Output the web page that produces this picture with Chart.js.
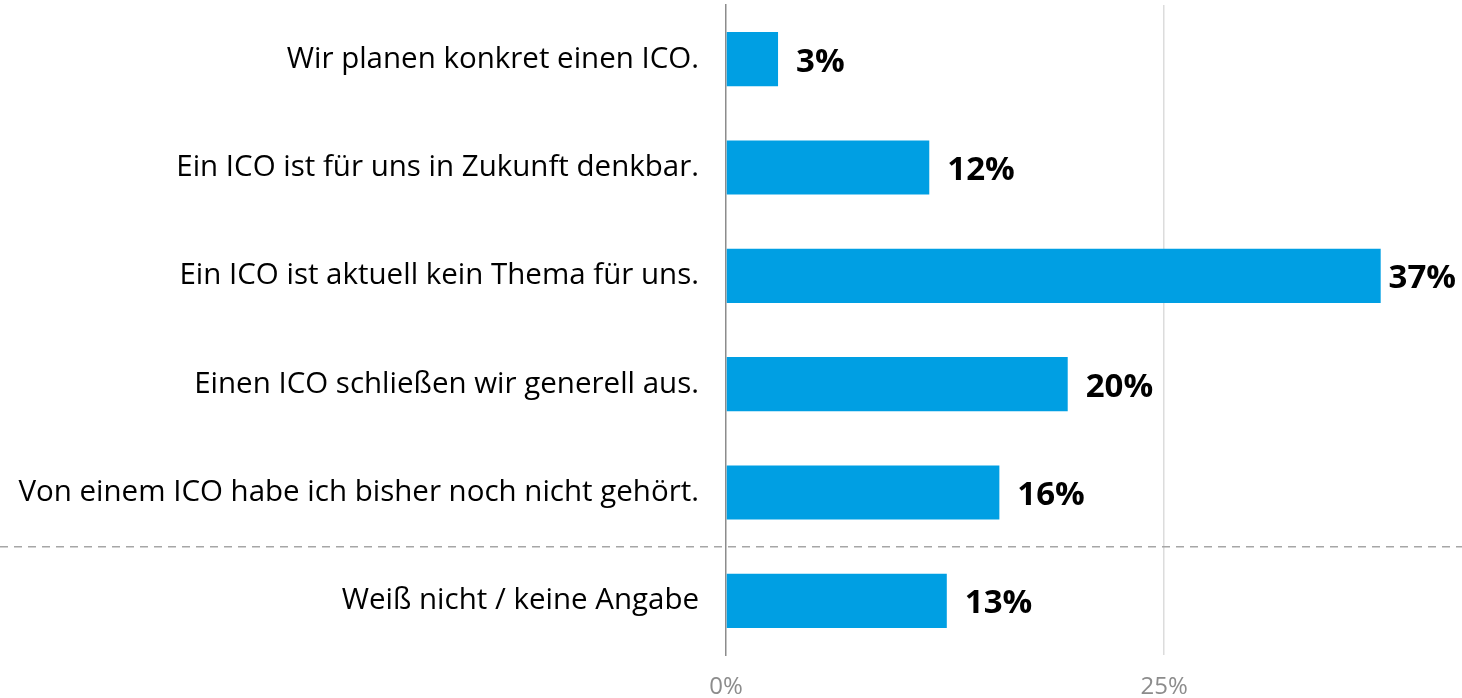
<!DOCTYPE html>
<html>
<head>
<meta charset="utf-8">
<script src="https://cdn.jsdelivr.net/npm/chart.js@4"></script>
<style>
  html, body { margin: 0; padding: 0; background: #fff; }
  #wrap { width: 1462px; height: 698px; }
</style>
</head>
<body>
<div id="wrap"><canvas id="chart"></canvas></div>
<script>
const categories = [
  'Wir planen konkret einen ICO.',
  'Ein ICO ist für uns in Zukunft denkbar.',
  'Ein ICO ist aktuell kein Thema für uns.',
  'Einen ICO schließen wir generell aus.',
  'Von einem ICO habe ich bisher noch nicht gehört.',
  'Weiß nicht / keine Angabe'
];
const values = [2.97, 11.6, 37.36, 19.5, 15.6, 12.6];
const valueLabels = ['3%', '12%', '37%', '20%', '16%', '13%'];
const tickValues = [0, 25];

const fontFamily = '"Open Sans", sans-serif';

// value labels at the end of each bar
const barLabels = {
  id: 'barLabels',
  afterDatasetsDraw(chart) {
    const ctx = chart.ctx;
    const meta = chart.getDatasetMeta(0);
    ctx.save();
    ctx.font = `bold 33px ${fontFamily}`;
    ctx.fillStyle = '#000';
    ctx.textAlign = 'left';
    ctx.textBaseline = 'middle';
    meta.data.forEach((bar, i) => {
      const w = ctx.measureText(valueLabels[i]).width;
      const x = Math.min(bar.x + 18, chart.width - w - 6);
      ctx.fillText(valueLabels[i], x, bar.y + 3);
    });
    ctx.restore();
  }
};

// dashed separator before the last category
const separator = {
  id: 'separator',
  afterDraw(chart) {
    const y = chart.scales.y;
    const pos = (y.getPixelForValue(4) + y.getPixelForValue(5)) / 2;
    const ctx = chart.ctx;
    ctx.save();
    ctx.strokeStyle = '#a6a6a6';
    ctx.lineWidth = 1.5;
    ctx.setLineDash([8, 6]);
    ctx.beginPath();
    ctx.moveTo(0, pos);
    ctx.lineTo(chart.width, pos);
    ctx.stroke();
    ctx.restore();
  }
};

new Chart(document.getElementById('chart'), {
  type: 'bar',
  data: {
    labels: categories,
    datasets: [{
      data: values,
      backgroundColor: '#009fe3',
      borderWidth: 0,
      categoryPercentage: 1,
      barPercentage: 0.5
    }]
  },
  options: {
    indexAxis: 'y',
    responsive: true,
    maintainAspectRatio: false,
    animation: false,
    layout: { padding: { top: 5, right: 0, left: 0, bottom: 0 } },
    plugins: {
      legend: { display: false },
      tooltip: { enabled: false }
    },
    scales: {
      x: {
        min: 0,
        max: 42,
        afterBuildTicks(axis) {
          axis.ticks = tickValues.map(v => ({ value: v }));
        },
        afterFit(axis) {
          axis.height = 43;
          axis.paddingLeft = 0;
          axis.paddingRight = 0;
        },
        border: { display: false },
        grid: {
          drawTicks: false,
          color: ctx => ctx.tick && ctx.tick.value === 0 ? 'rgba(0,0,0,0)' : '#dcdcdc',
          lineWidth: 1.5
        },
        ticks: {
          padding: 18,
          color: '#8c8c8c',
          font: { family: fontFamily, size: 24 },
          callback: v => v + '%'
        }
      },
      y: {
        afterFit(axis) {
          axis.width = 726;
          axis.paddingTop = 0;
          axis.paddingBottom = 0;
        },
        border: { display: true, color: '#8c8c8c', width: 1.5 },
        grid: { display: false, drawTicks: false },
        ticks: {
          padding: 27,
          color: '#000',
          font: { family: fontFamily, size: 29.5 }
        }
      }
    }
  },
  plugins: [barLabels, separator]
});
</script>
</body>
</html>
